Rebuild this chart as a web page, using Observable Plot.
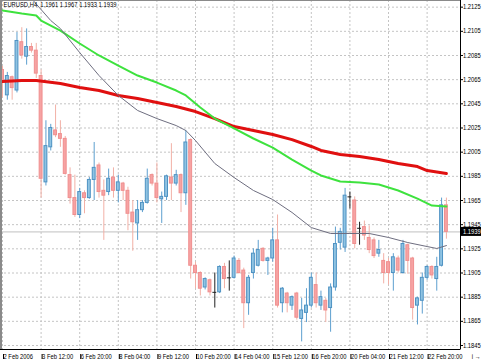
<!DOCTYPE html>
<html>
<head>
<meta charset="utf-8">
<script src="https://cdn.jsdelivr.net/npm/d3@7"></script>
<script src="https://cdn.jsdelivr.net/npm/@observablehq/plot@0.6"></script>
<style>
  html, body { margin: 0; padding: 0; background: #ffffff; }
  #chart svg { display: block; }
</style>
</head>
<body>
<div id="chart"></div>
<script>
// ---- data (EURUSD, H4) ----
const symbolTitle = "EURUSD,H4\u00a0\u00a01.1961 1.1967 1.1933 1.1939";
const bidPrice = 1.1939;

const opens = [1.2073,1.2052,1.2067,1.2056,1.2096,1.2084,1.2092,1.2089,1.2068,1.1980,
1.2009,1.2023,1.2020,1.2016,1.1986,1.1967,1.1953,1.1971,1.1967,1.1982,
1.1994,1.1973,1.1972,1.1984,1.1973,1.1979,1.1973,1.1955,1.1946,1.1957,
1.1963,1.1986,1.1979,1.1966,1.1968,1.1984,1.1979,1.1986,1.1971,1.2015,
1.1911,1.1905,1.1893,1.1899,1.1889,1.1889,1.1910,1.1901,1.1901,1.1915,
1.1907,1.1880,1.1905,1.1911,1.1925,1.1915,1.1917,1.1932,1.1880,1.1888,
1.1878,1.1888,1.1867,1.1872,1.1878,1.1895,1.1878,1.1882,1.1876,1.1893,
1.1930,1.1926,1.1968,1.1965,1.1942,1.1943,1.1934,1.1932,1.1921,1.1915,
1.1914,1.1905,1.1917,1.1905,1.1928,1.1917,1.1878,1.1882,1.1901,1.1910,
1.1900,1.1911,1.1961];
const highs = [1.2076,1.2071,1.2068,1.2104,1.2108,1.2107,1.2095,1.2095,1.2073,1.2031,
1.2028,1.2044,1.2031,1.2018,1.1992,1.1986,1.1975,1.1973,1.1984,1.2013,
1.1996,1.1982,1.1991,1.1992,1.1986,1.1980,1.1976,1.1965,1.1965,1.1965,
1.1991,1.1987,1.1996,1.1972,1.1986,1.2012,1.1990,1.1987,1.2023,1.2016,
1.1914,1.1906,1.1901,1.1900,1.1905,1.1911,1.1913,1.1915,1.1919,1.1917,
1.1909,1.1903,1.1925,1.1932,1.1926,1.1918,1.1942,1.1953,1.1893,1.1889,
1.1886,1.1889,1.1884,1.1892,1.1905,1.1905,1.1890,1.1884,1.1896,1.1943,
1.1942,1.1975,1.1972,1.1968,1.1947,1.1948,1.1944,1.1934,1.1932,1.1921,
1.1917,1.1921,1.1919,1.1932,1.1929,1.1918,1.1885,1.1905,1.1911,1.1911,
1.1918,1.1967,1.1967];
const lows = [1.2050,1.2048,1.2048,1.2054,1.2082,1.2077,1.2087,1.2066,1.1967,1.1977,
1.2006,1.2017,1.2009,1.1986,1.1962,1.1951,1.1950,1.1954,1.1966,1.1965,
1.1967,1.1932,1.1969,1.1967,1.1963,1.1965,1.1940,1.1923,1.1932,1.1955,
1.1962,1.1977,1.1963,1.1946,1.1965,1.1965,1.1977,1.1955,1.1961,1.1900,
1.1892,1.1886,1.1891,1.1886,1.1876,1.1888,1.1892,1.1890,1.1900,1.1904,
1.1859,1.1870,1.1900,1.1910,1.1914,1.1903,1.1914,1.1876,1.1872,1.1872,
1.1874,1.1866,1.1848,1.1864,1.1876,1.1876,1.1874,1.1864,1.1856,1.1890,
1.1924,1.1922,1.1958,1.1925,1.1928,1.1932,1.1921,1.1917,1.1918,1.1896,
1.1895,1.1890,1.1905,1.1904,1.1904,1.1866,1.1862,1.1871,1.1899,1.1900,
1.1890,1.1910,1.1933];
const closes = [1.2063,1.2068,1.2058,1.2097,1.2085,1.2092,1.2089,1.2070,1.1983,1.2010,
1.2025,1.2019,1.2016,1.1987,1.1967,1.1953,1.1972,1.1967,1.1982,1.1992,
1.1972,1.1969,1.1983,1.1973,1.1980,1.1973,1.1954,1.1947,1.1957,1.1963,
1.1983,1.1979,1.1967,1.1968,1.1985,1.1979,1.1986,1.1971,1.2013,1.1911,
1.1905,1.1892,1.1900,1.1889,1.1889,1.1910,1.1900,1.1901,1.1917,1.1905,
1.1880,1.1901,1.1921,1.1924,1.1915,1.1917,1.1932,1.1878,1.1892,1.1880,
1.1885,1.1868,1.1874,1.1878,1.1901,1.1880,1.1885,1.1874,1.1893,1.1929,
1.1939,1.1969,1.1968,1.1929,1.1942,1.1936,1.1924,1.1919,1.1924,1.1905,
1.1905,1.1918,1.1907,1.1929,1.1915,1.1876,1.1884,1.1901,1.1910,1.1903,
1.1910,1.1961,1.1939];

// moving averages, read at sampled bars (bar index -> value)
const maFastBars = [6,8,10,12,16,20,24,28,32,36,38,40,44,48,52,56,60,64,68,72,76,80,84,88,90,92];
const maFast = [1.21321,1.21230,1.21139,1.21073,1.20874,1.20684,1.20519,1.20395,1.20328,1.20270,1.20229,1.20146,1.19956,1.19840,1.19733,1.19658,1.19551,1.19426,1.19377,1.19377,1.19377,1.19344,1.19302,1.19269,1.19253,1.19277];
const maMidBars = [0,4,7,8,12,16,20,24,28,32,36,38,41,44,48,52,56,60,64,66,70,74,78,82,86,89,92];
const maMid = [1.21222,1.21197,1.21181,1.21139,1.21056,1.20949,1.20850,1.20767,1.20684,1.20626,1.20560,1.20519,1.20419,1.20328,1.20246,1.20163,1.20088,1.19989,1.19898,1.19857,1.19807,1.19799,1.19782,1.19733,1.19666,1.19608,1.19600];
const maSlowBars = [0,4,7,12,16,20,24,28,32,36,40,44,48,52,56,60,64,66,70,74,78,82,86,88,92];
const maSlow = [1.20634,1.20643,1.20643,1.20618,1.20585,1.20560,1.20519,1.20494,1.20461,1.20428,1.20386,1.20328,1.20262,1.20229,1.20196,1.20154,1.20097,1.20064,1.20031,1.20014,1.19989,1.19956,1.19931,1.19898,1.19873];

// axes
const xTickBars = [0,8,16,24,32,40,48,56,64,72,80,88];
const xTickLabels = ["2 Feb 2006","3 Feb 12:00","6 Feb 20:00","8 Feb 04:00","9 Feb 12:00","10 Feb 20:00","14 Feb 04:00","15 Feb 12:00","16 Feb 20:00","20 Feb 04:00","21 Feb 12:00","22 Feb 20:00"];
const yTicks = [1.2125,1.2105,1.2085,1.2065,1.2045,1.2025,1.2005,1.1985,1.1965,1.1945,1.1925,1.1905,1.1885,1.1865,1.1845];

// ---- build tables ----
const candles = opens.map((o, i) => ({
  i, open: o, high: highs[i], low: lows[i], close: closes[i],
  kind: closes[i] > o ? "up" : closes[i] < o ? "down" : "doji"
}));
const bodies = candles.filter(d => d.kind !== "doji");
const dojis = candles.filter(d => d.kind === "doji");
const line = (bars, vals) => bars.map((b, k) => ({i: b, v: vals[k]}));

const xDomain = [-0.4145, 94.92];
const yDomain = [1.18417, 1.21305];

const wickColor = {up: "#5d9fcf", down: "#f2b0a6", doji: "#202020"};
const bodyFill = {up: "#8fc3e2", down: "#f6a3a3"};
const bodyStroke = {up: "#4e92c3", down: "#f08f8f"};
const FONT = "'Liberation Sans', Arial, sans-serif";
const FS = 6.5;

const chart = Plot.plot({
  width: 483,
  height: 361,
  marginLeft: 0,
  marginRight: 23,
  marginTop: 0,
  marginBottom: 12,
  x: {type: "linear", domain: xDomain, axis: null},
  y: {type: "linear", domain: yDomain, axis: null},
  style: {fontFamily: FONT, fontSize: FS + "px", background: "#ffffff", color: "#000"},
  marks: [
    // grid
    Plot.gridX(xTickBars, {stroke: "#c4c4c4", strokeOpacity: 1, strokeDasharray: "2,2"}),
    Plot.gridY(yTicks, {stroke: "#c4c4c4", strokeOpacity: 1, strokeDasharray: "2,2"}),
    // bid line
    Plot.ruleY([bidPrice], {stroke: "#c0c0c0"}),
    // wicks
    Plot.ruleX(candles, {x: "i", y1: "low", y2: "high", stroke: d => wickColor[d.kind], strokeWidth: 1}),
    // bodies
    Plot.rect(bodies, {
      x1: d => d.i - 0.3, x2: d => d.i + 0.3,
      y1: "open", y2: "close",
      fill: d => bodyFill[d.kind], stroke: d => bodyStroke[d.kind], strokeWidth: 1
    }),
    Plot.ruleY(dojis, {x1: d => d.i - 0.4, x2: d => d.i + 0.4, y: "open", stroke: "#202020"}),
    // moving averages
    Plot.line(line(maSlowBars, maSlow), {x: "i", y: "v", stroke: "#e01010", strokeWidth: 3, clip: true}),
    Plot.line(line(maMidBars, maMid), {x: "i", y: "v", stroke: "#3ee23e", strokeWidth: 2, clip: true}),
    Plot.line(line(maFastBars, maFast), {x: "i", y: "v", stroke: "#6e6e80", strokeWidth: 1, clip: true}),
    // frame
    Plot.frame({stroke: "#8a8a8a"}),
    Plot.ruleX([xDomain[0]], {stroke: "#8a8a8a", strokeWidth: 3}),
    Plot.ruleX([xDomain[1]], {stroke: "#000"}),
    Plot.ruleY([yDomain[0]], {stroke: "#000"}),
    // axes
    Plot.axisY(yTicks, {anchor: "right", tickSize: 2, tickPadding: 0.5,
      tickFormat: d => d.toFixed(4), fontSize: FS}),
    Plot.axisX(xTickBars, {anchor: "bottom", tickSize: 5, tickPadding: -5,
      tickFormat: d => xTickLabels[xTickBars.indexOf(d)], textAnchor: "start", dx: 1, dy: 5, fontSize: FS}),
    // title
    Plot.text([symbolTitle], {frameAnchor: "top-left", dx: 3, dy: 2, lineAnchor: "top",
      textAnchor: "start", fill: "#000", fontSize: FS}),
    // current price tag (last mark)
    Plot.text([bidPrice], {y: d => d, frameAnchor: "right", dx: 2.5, textAnchor: "start",
      text: d => d.toFixed(4), fill: "#ffffff", fontSize: FS})
  ]
});

document.getElementById("chart").appendChild(chart);

const SVGNS = "http://www.w3.org/2000/svg";

// condense all texts slightly (MetaTrader's narrow screen font)
try {
  const texts = Array.from(chart.querySelectorAll("text"));
  const ref = texts.find(t => t.textContent.trim() === yTicks[0].toFixed(4));
  let factor = 0.9;
  if (ref) {
    const L = ref.getComputedTextLength();
    if (L > 0) factor = Math.min(1, 17.8 / L);
  }
  for (const t of texts) {
    const L = t.getComputedTextLength();
    if (L > 0) {
      t.setAttribute("textLength", (L * factor).toFixed(2));
      t.setAttribute("lengthAdjust", "spacingAndGlyphs");
    }
  }
} catch (e) {}

// black box behind the current price tag
try {
  const py = chart.scale("y").apply(bidPrice);
  const px = chart.scale("x").apply(xDomain[1]);
  const rect = document.createElementNS(SVGNS, "rect");
  rect.setAttribute("x", px + 1);
  rect.setAttribute("y", py - 4.5);
  rect.setAttribute("width", 20);
  rect.setAttribute("height", 9);
  rect.setAttribute("fill", "#000");
  const groups = chart.querySelectorAll(":scope > g");
  const last = groups[groups.length - 1];
  chart.insertBefore(rect, last);
} catch (e) {}
</script>
</body>
</html>
